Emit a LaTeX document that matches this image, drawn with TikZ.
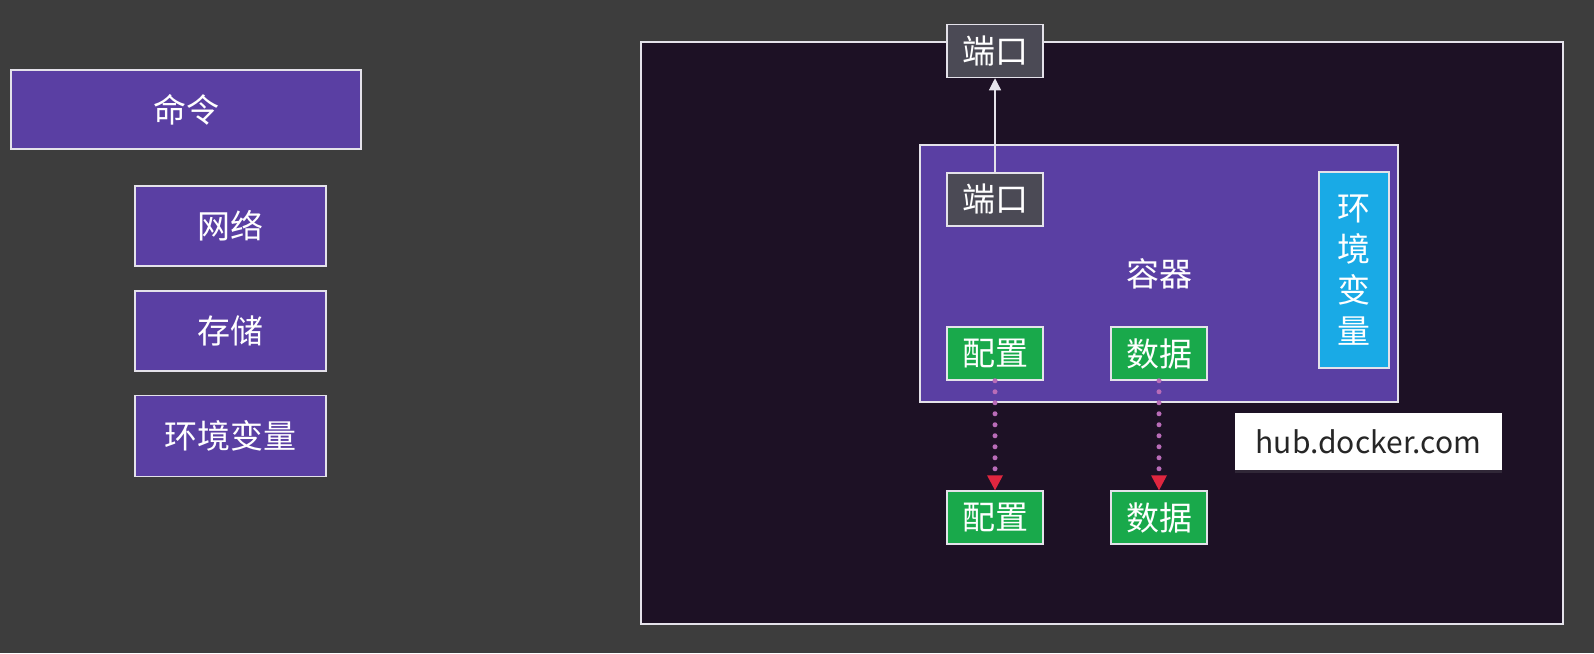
\documentclass[tikz,border=0pt]{standalone}
\usepackage{fontspec}
\setmainfont{Noto Sans CJK SC}
\usetikzlibrary{arrows.meta,positioning,shadows}
\definecolor{bgc}{HTML}{3D3D3D}
\definecolor{hostc}{HTML}{1D1125}
\definecolor{purp}{HTML}{5A3FA3}
\definecolor{portc}{HTML}{4B4A55}
\definecolor{greenc}{HTML}{19A94B}
\definecolor{bluec}{HTML}{19AAE6}
\definecolor{edgec}{HTML}{E4E2EA}
\definecolor{dotc}{HTML}{B96CB8}
\definecolor{tipc}{HTML}{E0263F}
\tikzset{
  cmdbox/.style={draw=edgec, line width=1.6pt, fill=purp, text=white, inner sep=0pt,
    font=\fontsize{33}{38}\selectfont},
  smallbox/.style={draw=edgec, line width=1.5pt, text=white, inner sep=0pt,
    minimum width=96pt, minimum height=53pt, font=\fontsize{33}{38}\selectfont},
  portbox/.style={smallbox, fill=portc},
  volbox/.style={smallbox, fill=greenc},
  portarrow/.style={-{Triangle[length=12pt,width=12pt]}, edgec, line width=1.2pt},
  dotarrow/.style={dotc, line width=5pt, line cap=round, dash pattern=on 0pt off 11pt,
    -{Triangle[length=15pt,width=16pt,line width=0pt,fill=tipc,color=tipc]}}
}
\begin{document}
\begin{tikzpicture}[x=1pt,y=-1pt]
    \fill [bgc] (0,0) rectangle (1594,653);
    \node [cmdbox, minimum width=350pt, minimum height=79pt] (cmd) at (186,109.5) {命令};
    \node [cmdbox, minimum width=191pt, minimum height=80pt] (net) at (230.5,226) {网络};
    \node [cmdbox, minimum width=191pt, minimum height=80pt] (store) at (230.5,331) {存储};
    \node [cmdbox, minimum width=191pt, minimum height=81pt] (envcmd) at (230.5,436) {环境变量};
    \draw [edgec, line width=1.4pt, fill=hostc] (641,42) rectangle (1563,624);
    \node [cmdbox, minimum width=478pt, minimum height=257pt] (ctr) at (1159,273.5) {容器};
    \node [portbox] (hostport) at (995,51) {端口};
    \node [portbox] (port) at (995,199.5) {端口};
    \node [smallbox, fill=bluec, minimum width=70pt, minimum height=196pt, align=center,
        font=\fontsize{33}{41}\selectfont] (env) at (1354,270) {环\\境\\变\\量};
    \node [volbox] (cfg) at (995,353.5) {配置};
    \node [volbox] (data) at (1159,353.5) {数据};
    \node [volbox] (cfgvol) at (995,517.5) {配置};
    \node [volbox] (datavol) at (1159,517.5) {数据};
    \node [fill=white, text=black!85, minimum width=267pt, minimum height=57pt, inner sep=0pt,
        font=\fontsize{30}{36}\selectfont,
        drop shadow={shadow xshift=0pt, shadow yshift=-3pt, opacity=0.2}] (hub) at (1368.5,441.5) {hub.docker.com};
    \draw [portarrow] (port) -- (hostport);
    \draw [dotarrow] (cfg) -- (cfgvol);
    \draw [dotarrow] (data) -- (datavol);
\end{tikzpicture}
\end{document}
